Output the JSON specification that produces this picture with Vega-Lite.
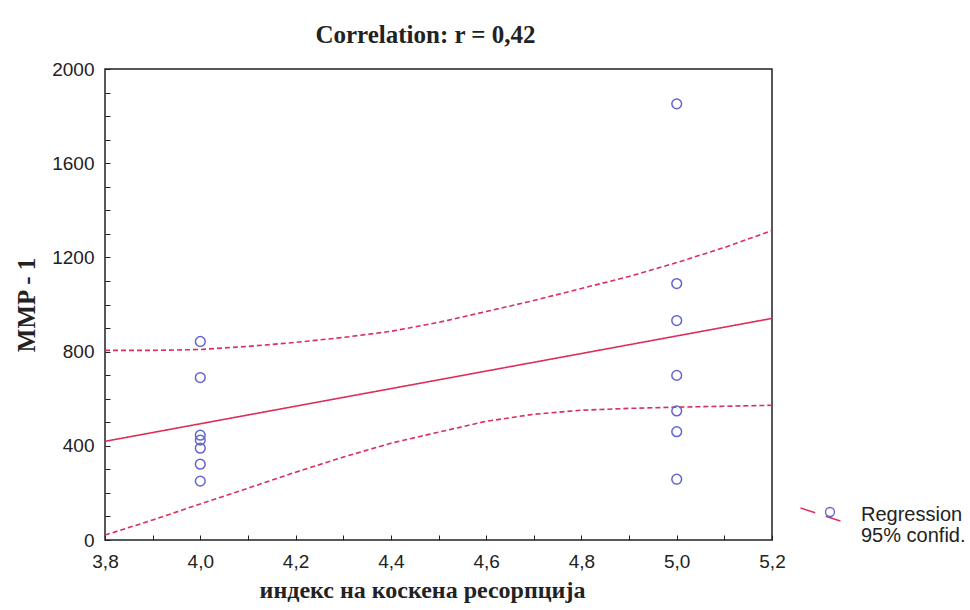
{
  "$schema": "https://vega.github.io/schema/vega-lite/v6.json",
  "width": 667,
  "height": 471,
  "autosize": "none",
  "padding": {"left": 105, "top": 69, "right": 198, "bottom": 70},
  "background": "white",
  "config": {
    "view": {"stroke": "#222", "strokeWidth": 1.5},
    "font": "Liberation Sans"
  },
  "title": {
    "text": "Correlation: r = 0,42",
    "font": "Liberation Serif",
    "fontSize": 25,
    "fontWeight": "bold",
    "color": "#222",
    "offset": 12,
    "dx": -13
  },
  "datasets": {
    "points": [
      {"x": 4.0, "y": 843}, {"x": 4.0, "y": 690}, {"x": 4.0, "y": 445}, {"x": 4.0, "y": 424},
      {"x": 4.0, "y": 390}, {"x": 4.0, "y": 322}, {"x": 4.0, "y": 250},
      {"x": 5.0, "y": 1852}, {"x": 5.0, "y": 1089}, {"x": 5.0, "y": 932}, {"x": 5.0, "y": 699},
      {"x": 5.0, "y": 548}, {"x": 5.0, "y": 460}, {"x": 5.0, "y": 258}
    ],
    "lines": [
      {"x": 3.8, "y": 419, "series": "fit", "legend": "Regression"},
      {"x": 5.2, "y": 941, "series": "fit", "legend": "Regression"},
      {"x": 3.8, "y": 805, "series": "upper", "legend": "95% confid."},
      {"x": 3.9, "y": 805, "series": "upper", "legend": "95% confid."},
      {"x": 4.0, "y": 809, "series": "upper", "legend": "95% confid."},
      {"x": 4.1, "y": 822, "series": "upper", "legend": "95% confid."},
      {"x": 4.2, "y": 839, "series": "upper", "legend": "95% confid."},
      {"x": 4.3, "y": 860, "series": "upper", "legend": "95% confid."},
      {"x": 4.4, "y": 886, "series": "upper", "legend": "95% confid."},
      {"x": 4.5, "y": 924, "series": "upper", "legend": "95% confid."},
      {"x": 4.6, "y": 970, "series": "upper", "legend": "95% confid."},
      {"x": 4.7, "y": 1017, "series": "upper", "legend": "95% confid."},
      {"x": 4.8, "y": 1068, "series": "upper", "legend": "95% confid."},
      {"x": 4.9, "y": 1119, "series": "upper", "legend": "95% confid."},
      {"x": 5.0, "y": 1178, "series": "upper", "legend": "95% confid."},
      {"x": 5.1, "y": 1242, "series": "upper", "legend": "95% confid."},
      {"x": 5.2, "y": 1314, "series": "upper", "legend": "95% confid."},
      {"x": 3.8, "y": 21, "series": "lower", "legend": "95% confid."},
      {"x": 3.9, "y": 85, "series": "lower", "legend": "95% confid."},
      {"x": 4.0, "y": 153, "series": "lower", "legend": "95% confid."},
      {"x": 4.1, "y": 220, "series": "lower", "legend": "95% confid."},
      {"x": 4.2, "y": 288, "series": "lower", "legend": "95% confid."},
      {"x": 4.3, "y": 352, "series": "lower", "legend": "95% confid."},
      {"x": 4.4, "y": 411, "series": "lower", "legend": "95% confid."},
      {"x": 4.5, "y": 458, "series": "lower", "legend": "95% confid."},
      {"x": 4.6, "y": 504, "series": "lower", "legend": "95% confid."},
      {"x": 4.7, "y": 534, "series": "lower", "legend": "95% confid."},
      {"x": 4.8, "y": 551, "series": "lower", "legend": "95% confid."},
      {"x": 4.9, "y": 559, "series": "lower", "legend": "95% confid."},
      {"x": 5.0, "y": 564, "series": "lower", "legend": "95% confid."},
      {"x": 5.1, "y": 568, "series": "lower", "legend": "95% confid."},
      {"x": 5.2, "y": 572, "series": "lower", "legend": "95% confid."}
    ]
  },
  "encoding": {
    "x": {
      "field": "x",
      "type": "quantitative",
      "scale": {"domain": [3.8, 5.2], "nice": false, "zero": false},
      "axis": {
        "title": "индекс на коскена ресорпција",
        "titleFont": "Liberation Serif",
        "titleFontSize": 24,
        "titleFontWeight": "bold",
        "titleColor": "#222",
        "titlePadding": 7,
        "titleX": 317,
        "values": [3.8, 3.9, 4.0, 4.1, 4.2, 4.3, 4.4, 4.5, 4.6, 4.7, 4.8, 4.9, 5.0, 5.1, 5.2],
        "labelExpr": "round(datum.value * 10) % 2 === 0 ? replace(format(datum.value, '.1f'), '.', ',') : ''",
        "labelFontSize": 19,
        "labelColor": "#222",
        "labelPadding": 17,
        "labelFlush": false,
        "labelOverlap": false,
        "tickSize": -5,
        "tickColor": "#222",
        "domain": false,
        "grid": false
      }
    },
    "y": {
      "field": "y",
      "type": "quantitative",
      "scale": {"domain": [0, 2000], "nice": false},
      "axis": {
        "title": "MMP - 1",
        "titleFont": "Liberation Serif",
        "titleFontSize": 25,
        "titleFontWeight": "bold",
        "titleColor": "#222",
        "titlePadding": 12,
        "values": [0, 100, 200, 300, 400, 500, 600, 700, 800, 900, 1000, 1100, 1200, 1300, 1400, 1500, 1600, 1700, 1800, 1900, 2000],
        "labelExpr": "datum.value % 400 === 0 ? format(datum.value, 'd') : ''",
        "labelFontSize": 19,
        "labelColor": "#222",
        "labelPadding": 16,
        "labelFlush": false,
        "labelOverlap": false,
        "tickSize": -5,
        "tickColor": "#222",
        "domain": false,
        "grid": false
      }
    }
  },
  "layer": [
    {
      "data": {"name": "lines"},
      "mark": {"type": "line", "strokeWidth": 1.6},
      "encoding": {
        "detail": {"field": "series"},
        "color": {
          "field": "legend",
          "type": "nominal",
          "scale": {"domain": ["Regression", "95% confid."], "range": ["#dc2e5a", "#dc2e5a"]},
          "legend": {
            "title": null,
            "orient": "none",
            "legendX": 705,
            "legendY": 435,
            "symbolType": "M-2.1,-0.68L-0.55,-0.18M0.55,0.18L2.1,0.68",
            "symbolSize": 361,
            "symbolStrokeWidth": 1.4,
            "labelFontSize": 20,
            "labelColor": "#222",
            "labelOffset": 30,
            "rowPadding": 0,
            "symbolOffset": 0,
            "encode": {
              "symbols": {"update": {"opacity": {"signal": "datum.label === 'Regression' ? 1 : 0"}}}
            }
          }
        },
        "strokeDash": {
          "field": "series",
          "type": "nominal",
          "scale": {"domain": ["fit", "upper", "lower"], "range": [[1, 0], [5, 3], [5, 3]]},
          "legend": null
        }
      }
    },
    {
      "data": {"name": "points"},
      "mark": {"type": "point", "filled": false, "color": "#6464d2", "size": 95, "strokeWidth": 1.5, "opacity": 1},
      "encoding": {
        "shape": {
          "datum": "Regression",
          "scale": {"range": ["circle"]},
          "legend": {
            "title": null,
            "orient": "none",
            "legendX": 715,
            "legendY": 433,
            "symbolSize": 80,
            "symbolStrokeWidth": 1.4,
            "symbolStrokeColor": "#6464d2",
            "symbolFillColor": "transparent",
            "labelFontSize": 20,
            "labelExpr": "''",
            "rowPadding": 0,
            "symbolOffset": 0
          }
        }
      }
    }
  ]
}
